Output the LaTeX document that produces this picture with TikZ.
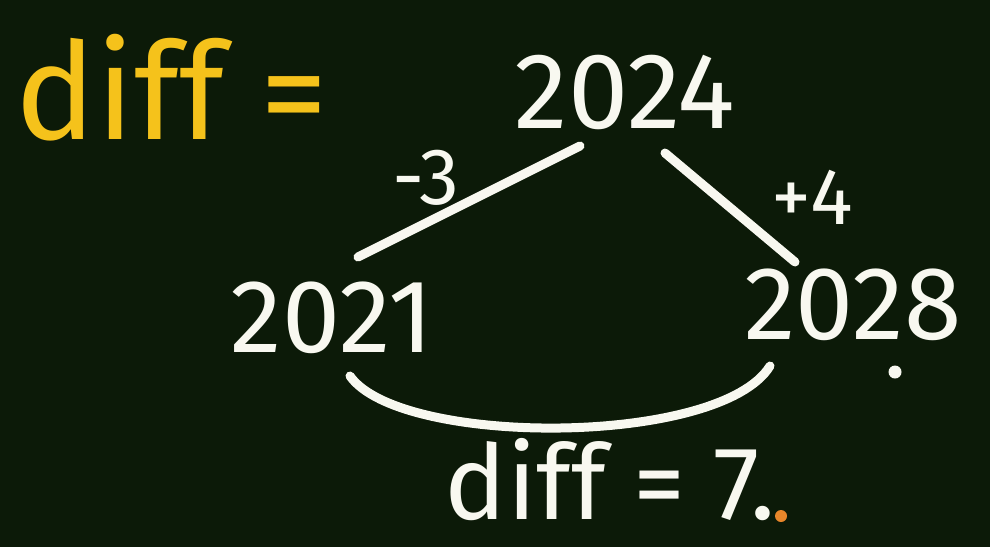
\documentclass[tikz,border=0pt]{standalone}
\usepackage{fontspec}
\setmainfont{Fira Sans}
\definecolor{board}{HTML}{0C1A08}
\definecolor{chalk}{HTML}{F8F8F0}
\definecolor{chalkyellow}{HTML}{F5C21B}
\definecolor{chalkorange}{HTML}{E8862A}
\begin{document}
\begin{tikzpicture}[x=1pt,y=-1pt,
  lbl/.style={text=chalk,inner sep=0pt,anchor=center},
  stroke/.style={draw=chalk,line width=9pt,line cap=round}]
\fill[board] (0,0) rectangle (990,547);
\useasboundingbox (0,0) rectangle (990,547);
% title
\node[lbl,text=chalkyellow,font=\fontsize{135}{135}\selectfont] (title) at (172,88) {diff =};
% years
\node[lbl,font=\fontsize{108}{108}\selectfont] (y2024) at (625,92) {2024};
\node[lbl,font=\fontsize{104}{104}\selectfont] (y2021) at (332,318) {2021};
\node[lbl,font=\fontsize{104}{104}\selectfont] (y2028) at (853,305) {2028};
% edge labels
\node[lbl,font=\fontsize{80}{80}\selectfont] (m3) at (426,178) {-3};
\node[lbl,font=\fontsize{80}{80}\selectfont] (p4) at (812,197) {+4};
% bottom
\node[lbl,font=\fontsize{104}{104}\selectfont] (res) at (610,480) {diff = 7.};
% connector ends
\coordinate (la) at (580,146);
\coordinate (lb) at (358,257);
\coordinate (ra) at (665,153);
\coordinate (rb) at (795,262);
\coordinate (aa) at (350,376);
\coordinate (ab) at (770,366);
\draw[stroke] (la) -- (lb);
\draw[stroke] (ra) -- (rb);
\draw[stroke] (aa) .. controls (400,447) and (720,447) .. (ab);
% dots
\node[circle,fill=chalk,minimum size=13pt,inner sep=0pt] (d1) at (895,372) {};
\node[circle,fill=chalkorange,minimum size=12pt,inner sep=0pt] (d2) at (781,516) {};
\end{tikzpicture}
\end{document}
